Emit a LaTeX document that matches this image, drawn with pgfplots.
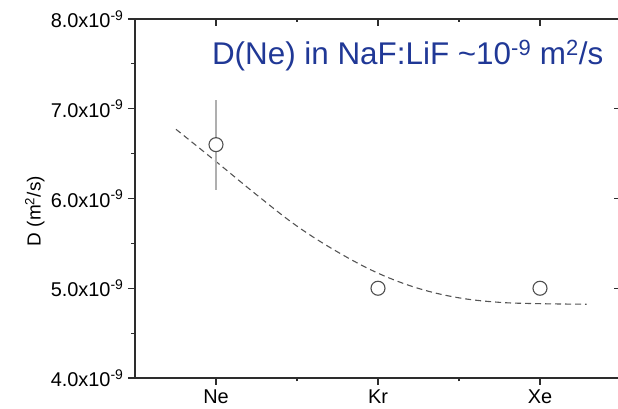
\documentclass[border=0pt]{standalone}
\usepackage{pgfplots}
\pgfplotsset{compat=1.18}
\usepackage{fontspec}
\setmainfont{Liberation Sans}
\definecolor{axgray}{RGB}{45,45,45}
\definecolor{markgray}{RGB}{80,80,80}
\definecolor{errgray}{RGB}{175,175,175}
\definecolor{fitgray}{RGB}{85,85,85}
\definecolor{titleblue}{RGB}{32,56,150}
\newcommand{\ytl}[1]{#1x10\textsuperscript{-9}}
\begin{document}
\begin{tikzpicture}[x=1bp,y=1bp]
\begin{axis}[
  at={(135bp,31bp)}, anchor=south west,
  scale only axis, width=486bp, height=359bp,
  xmin=0.5, xmax=3.5, ymin=4, ymax=8,
  axis line style={axgray, line width=1.2bp},
  xtick={1,2,3}, xticklabels={Ne,Kr,Xe},
  minor x tick num=1,
  ytick={4,5,6,7,8},
  yticklabels={\ytl{4.0},\ytl{5.0},\ytl{6.0},\ytl{7.0},\ytl{8.0}},
  minor y tick num=1,
  xtick pos=bottom, ytick pos=left,
  tick align=outside,
  major tick length=7bp, minor tick length=3.5bp,
  tick style={axgray, line width=1.1bp},
  ticklabel style={font=\fontsize{20}{24}\selectfont, text=black},
  xticklabel style={yshift=-1bp},
  yticklabel style={xshift=-1bp},
  clip=false,
]
\addplot[fitgray, line width=1.1bp, dash pattern=on 6bp off 4bp, smooth, tension=0.6] coordinates {
  (0.753,6.771) (1.0,6.412) (1.25,6.042) (1.5,5.692) (1.75,5.405)
  (2.0,5.168) (2.25,4.998) (2.5,4.893) (2.75,4.843) (3.0,4.828) (3.288,4.822)
};
\addplot[draw=none, mark=none, error bars/.cd, y dir=both, y explicit,
  error bar style={errgray, line width=1.4bp}, error mark=none]
  coordinates {(1,6.6) +- (0,0.5)};
\addplot[only marks, mark=*, mark size=7bp,
  mark options={draw=markgray, fill=white, line width=1.1bp}]
  coordinates {(1,6.6) (2,5.0) (3,5.0)};
\node[anchor=base, text=titleblue, font=\fontsize{31.5}{36}\selectfont]
  at (axis description cs:0.561,0.872)
  {D(Ne) in NaF:LiF \textasciitilde 10\textsuperscript{-9} m\textsuperscript{2}/s};
\node[rotate=90, font=\fontsize{19}{23}\selectfont]
  at (axis description cs:-0.206,0.465) {D (m\textsuperscript{2}/s)};
\end{axis}
\begin{axis}[
  at={(135bp,31bp)}, anchor=south west,
  scale only axis, width=486bp, height=359bp,
  xmin=0.5, xmax=3.5, ymin=4, ymax=8,
  axis line style={draw=none},
  xtick={1,2,3}, xticklabels={},
  minor x tick num=1,
  ytick={4,5,6,7,8}, yticklabels={},
  minor y tick num=1,
  xtick pos=right, ytick pos=right,
  tick align=inside,
  major tick length=7bp, minor tick length=3.5bp,
  tick style={axgray, line width=1.1bp},
]
\addplot[draw=none] coordinates {(1,5)};
\end{axis}
\pgfresetboundingbox
\useasboundingbox (0,0) rectangle (618bp,409bp);
\end{tikzpicture}
\end{document}
